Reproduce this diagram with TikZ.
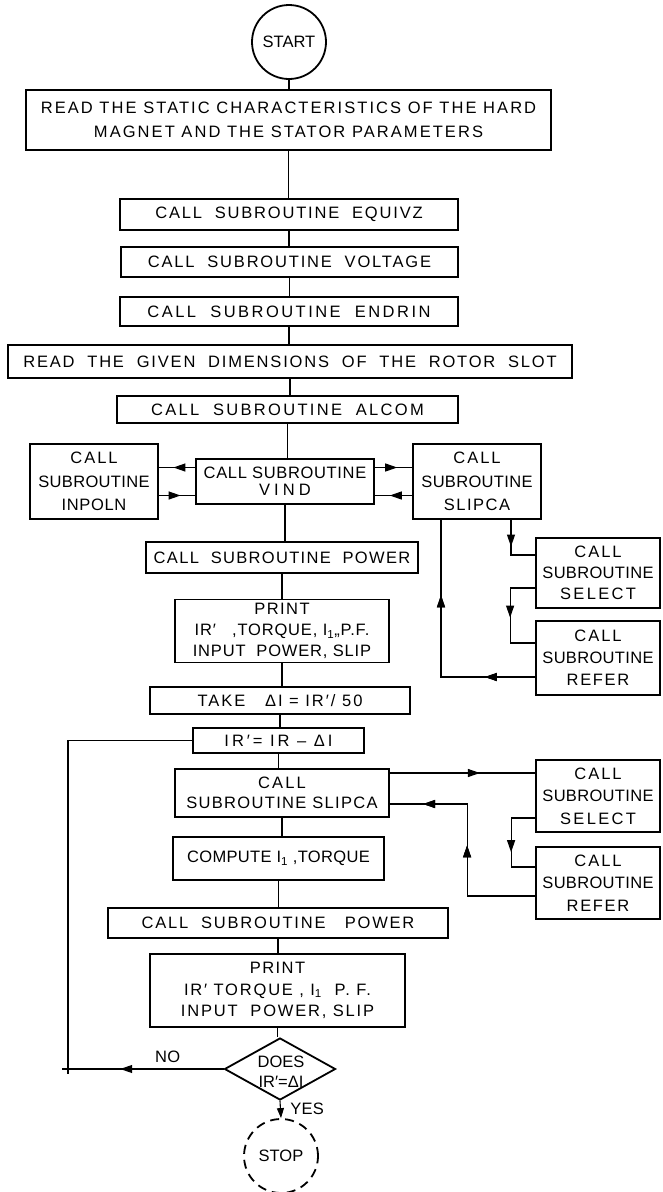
\documentclass[tikz,border=0pt]{standalone}
\usepackage{fontspec}
\setmainfont{Liberation Sans}
\usetikzlibrary{shapes.geometric, arrows.meta, positioning, decorations.markings}

% lettering: optional baseline skip, letter spacing
\newcommand{\boxfont}[2][22]{\fontsize{16.5}{#1}\selectfont\addfontfeature{LetterSpace=#2}}
\newcommand{\spaced}[2]{{\addfontfeature{LetterSpace=#1}#2}}

\tikzset{
  stepbox/.style={draw, line width=1.8pt, rectangle, align=center, inner sep=1pt, font=\boxfont{0}},
  flow/.style={draw, line width=1.1pt},
  midarrow/.style={postaction={decorate}, decoration={markings,
    mark=at position #1 with {\arrow{Triangle[length=12pt,width=8pt]}}}},
}

\begin{document}
\begin{tikzpicture}[x=1pt, y=-1pt]
    \useasboundingbox (0,0) rectangle (662,1192);

    % Main column
    \node[stepbox, circle, minimum size=74pt] (start) at (289,42) {START};
    \node[stepbox, minimum width=525pt, minimum height=60pt, font={\boxfont[24]{12.5}}] (read1) at (288.5,120)
        {READ THE STATIC CHARACTERISTICS OF THE HARD\\MAGNET AND THE STATOR PARAMETERS};
    \node[stepbox, minimum width=338pt, minimum height=31pt, font=\boxfont{11}] (equivz) at (289,214.5) {CALL \ SUBROUTINE \ EQUIVZ};
    \node[stepbox, minimum width=337pt, minimum height=30pt, font=\boxfont{11}] (voltage) at (289.5,262) {CALL \ SUBROUTINE \ VOLTAGE};
    \node[stepbox, minimum width=338pt, minimum height=29pt, font=\boxfont{15}] (endrin) at (289,311.5) {CALL \ SUBROUTINE \ ENDRIN};
    \node[stepbox, minimum width=564pt, minimum height=33pt, font=\boxfont{11}] (read2) at (290,361.5) {READ \ THE \ GIVEN \ DIMENSIONS \ OF \ THE \ ROTOR \ SLOT};
    \node[stepbox, minimum width=341pt, minimum height=27pt, font=\boxfont{14}] (alcom) at (287.5,409.5) {CALL \ SUBROUTINE \ ALCOM};

    \node[stepbox, minimum width=128pt, minimum height=75pt, font={\boxfont[23.5]{2}}] (inpoln) at (94,481.5)
        {\spaced{12}{CALL}\\SUBROUTINE\\\spaced{4}{INPOLN}};
    \node[stepbox, minimum width=178pt, minimum height=45pt, font={\boxfont[17]{4}}] (vind) at (285,481.5)
        {CALL SUBROUTINE\\\spaced{25}{VIND}};
    \node[stepbox, minimum width=128pt, minimum height=75pt, font={\boxfont[23.5]{2}}] (slipca) at (477,481.5)
        {\spaced{12}{CALL}\\SUBROUTINE\\\spaced{9}{SLIPCA}};

    \node[stepbox, minimum width=272pt, minimum height=31pt, font=\boxfont{8}] (power) at (282,557.5) {CALL \ SUBROUTINE \ POWER};
    \node[stepbox, minimum width=124pt, minimum height=70pt, font={\boxfont[21]{2}}] (select1) at (598,573)
        {\spaced{12}{CALL}\\SUBROUTINE\\\spaced{14}{SELECT}};
    \node[stepbox, minimum width=214pt, minimum height=63pt, font={\boxfont[21]{5}}] (print1) at (282,631)
        {\spaced{9}{PRINT}\\IR′ \ \ ,TORQUE, I\textsubscript{1},,P.F.\\INPUT \ POWER, SLIP};
    \node[stepbox, minimum width=124pt, minimum height=74pt, font={\boxfont[22]{2}}] (refer1) at (598,658)
        {\spaced{12}{CALL}\\SUBROUTINE\\\spaced{10}{REFER}};

    \node[stepbox, minimum width=260pt, minimum height=27pt, font=\boxfont{12}] (take) at (280,700.5) {TAKE \ \ ΔI = IR′/ 50};
    \node[stepbox, minimum width=171pt, minimum height=25pt, font=\boxfont{18}] (irp) at (278.5,740.5) {IR′= IR -- ΔI};
    \node[stepbox, minimum width=214pt, minimum height=48pt, font={\boxfont[20]{8}}] (slipca2) at (282,793)
        {\spaced{13}{CALL}\\SUBROUTINE SLIPCA};
    \node[stepbox, minimum width=124pt, minimum height=72pt, font={\boxfont[22.5]{2}}] (select2) at (598,796)
        {\spaced{12}{CALL}\\SUBROUTINE\\\spaced{14}{SELECT}};
    \node[stepbox, minimum width=211pt, minimum height=43pt, font=\boxfont{2}] (compute) at (278.5,858.5) {COMPUTE I\textsubscript{1} ,TORQUE};
    \node[stepbox, minimum width=124pt, minimum height=72pt, font={\boxfont[22.5]{2}}] (refer2) at (598,883)
        {\spaced{12}{CALL}\\SUBROUTINE\\\spaced{10}{REFER}};
    \node[stepbox, minimum width=340pt, minimum height=30pt, font=\boxfont{11}] (power2) at (278,923) {CALL \ SUBROUTINE \ \ POWER};
    \node[stepbox, minimum width=255pt, minimum height=73pt, font={\boxfont[21.5]{11}}] (print2) at (277.5,990.5)
        {\spaced{9}{PRINT}\\IR′ TORQUE , I\textsubscript{1} \ P. F.\\INPUT \ POWER, SLIP};
    \node[stepbox, diamond, inner sep=0pt, minimum width=111pt, minimum height=62pt] (decide) at (280,1069) {};
    \node[align=center, font={\boxfont[20]{0}}] (decidetext) at (281,1072) {DOES\\IR′=ΔI};
    \node[stepbox, circle, dash pattern=on 9pt off 6pt, minimum size=74pt] (stop) at (281,1156) {STOP};

    % Main column links
    \draw[flow] (start.south) -- (start.south |- read1.north);
    \draw[flow] (read1.south) -- (read1.south |- equivz.north);
    \draw[flow] (equivz.south) -- (equivz.south |- voltage.north);
    \draw[flow] (voltage.south) -- (voltage.south |- endrin.north);
    \draw[flow] (endrin.south) -- (endrin.south |- read2.north);
    \draw[flow] (read2.south) -- (read2.south |- alcom.north);
    \draw[flow] (alcom.south) -- (alcom.south |- vind.north);
    \draw[flow] (vind.south) -- (vind.south |- power.north);
    \draw[flow] (power.south) -- (power.south |- print1.north);
    \draw[flow] (print1.south) -- (print1.south |- take.north);
    \draw[flow] (take.south) -- (take.south |- irp.north);
    \draw[flow] (irp.south) -- (irp.south |- slipca2.north);
    \draw[flow] (slipca2.south) -- (slipca2.south |- compute.north);
    \draw[flow] (compute.south) -- (compute.south |- power2.north);
    \draw[flow] (power2.south) -- (power2.south |- print2.north);
    \draw[flow] (print2.south) -- (print2.south |- decide.north);
    \draw[flow, -{Triangle[length=10pt,width=7pt]}] (decide.south) -- node[anchor=west, pos=0.45, xshift=6pt, font=\boxfont{2}] {YES} (stop.north);

    % VIND side calls
    \draw[flow, midarrow=0.6] ([yshift=14pt]vind.west) -- ([yshift=14pt]vind.west -| inpoln.east);
    \draw[flow, midarrow=0.6] ([yshift=-14pt]inpoln.east) -- ([yshift=-14pt]inpoln.east -| vind.west);
    \draw[flow, midarrow=0.6] ([yshift=14pt]vind.east) -- ([yshift=14pt]vind.east -| slipca.west);
    \draw[flow, midarrow=0.6] ([yshift=-14pt]slipca.west) -- ([yshift=-14pt]slipca.west -| vind.east);

    % SLIPCA -> SELECT -> REFER (first pass)
    \draw[flow, midarrow=0.45] ([xshift=34pt]slipca.south) |- ([yshift=18pt]select1.west);
    \draw[flow, midarrow=0.52] ([yshift=-15pt]select1.west) -- ++(-25,0) |- ([yshift=15pt]refer1.west);
    \draw[flow, midarrow=0.2, midarrow=0.7] ([yshift=-19pt]refer1.west) -| ([xshift=-36pt]slipca.south);

    % SLIPCA -> SELECT -> REFER (loop)
    \draw[flow, midarrow=0.62] ([yshift=20pt]slipca2.east) -- ([yshift=20pt]slipca2.east -| select2.west);
    \draw[flow, midarrow=0.6] ([yshift=-22pt]select2.west) -- ++(-24,0) |- ([yshift=16pt]refer2.west);
    \draw[flow, midarrow=0.5, midarrow=0.86] ([yshift=-13pt]refer2.west) -- ++(-68,0) |- ([yshift=-11pt]slipca2.east);

    % Back to IR'
    \coordinate (noback) at (68,1069);
    \draw[flow, midarrow=0.17] (decide.west) -- node[above, pos=0.36, yshift=2pt, font=\boxfont{2}] {NO} (noback) |- (irp.west);
    \draw[flow] ([xshift=-6pt]noback) -- (noback) -- ([yshift=-5pt]noback);

\end{tikzpicture}
\end{document}
